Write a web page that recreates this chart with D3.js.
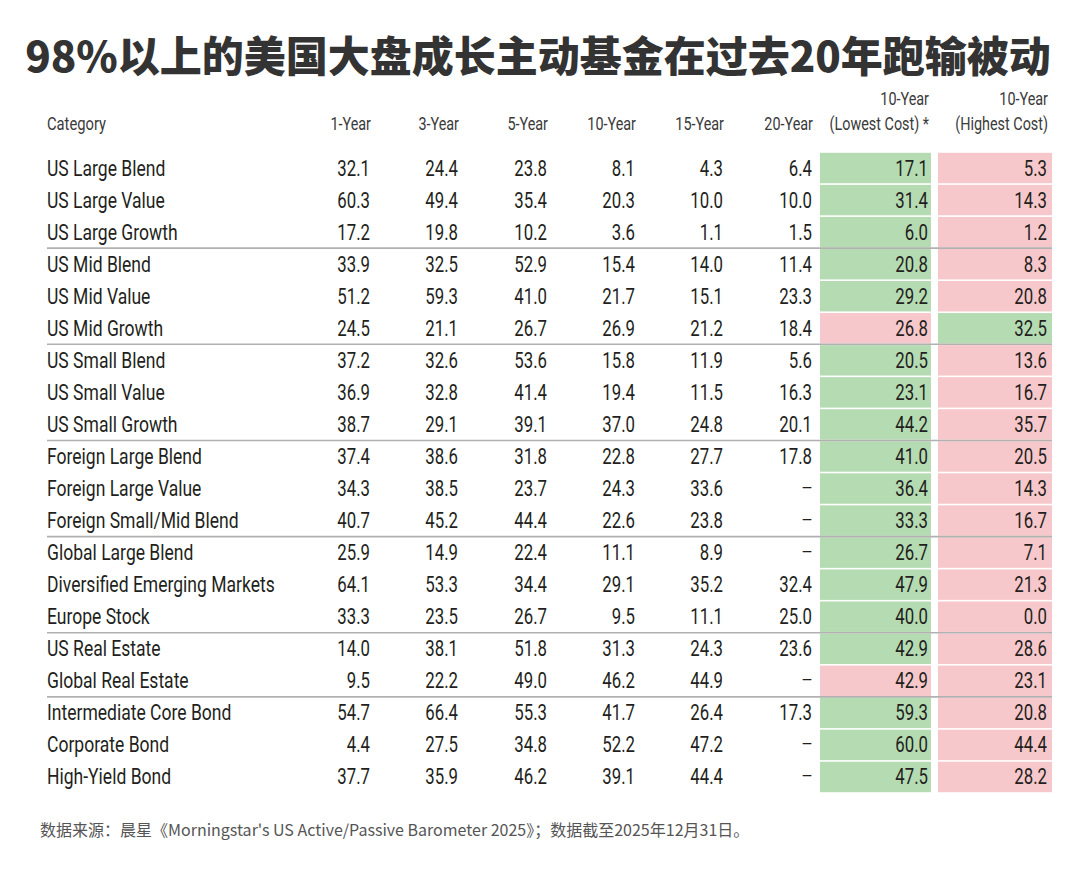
<!doctype html>
<html>
  <head>
    <meta charset="utf-8">
    <title>98%以上的美国大盘成长主动基金在过去20年跑输被动</title>
    <script src="https://cdn.jsdelivr.net/npm/d3@7/dist/d3.min.js"></script>
    <style>
      html, body { margin: 0; padding: 0; background: #fff; }
      svg { display: block; }
    </style>
  </head>
  <body>
    <div id="chart"></div>
  </body>
  <script>
    var width = 1080,
      height = 873;

    var titleText = "98%以上的美国大盘成长主动基金在过去20年跑输被动";
    var sourceText = "数据来源：晨星《Morningstar's US Active/Passive Barometer 2025》；数据截至2025年12月31日。";

    var categories = [
      "US Large Blend", "US Large Value", "US Large Growth",
      "US Mid Blend", "US Mid Value", "US Mid Growth",
      "US Small Blend", "US Small Value", "US Small Growth",
      "Foreign Large Blend", "Foreign Large Value", "Foreign Small/Mid Blend",
      "Global Large Blend", "Diversified Emerging Markets", "Europe Stock",
      "US Real Estate", "Global Real Estate",
      "Intermediate Core Bond", "Corporate Bond", "High-Yield Bond"
    ];

    // index of the first row in each group (a rule is drawn above it)
    var groupStarts = [3, 6, 9, 12, 15, 17];

    var columns = ["1-Year", "3-Year", "5-Year", "10-Year", "15-Year", "20-Year", "lowest", "highest"];
    var headerTop = { lowest: "10-Year", highest: "10-Year" };
    var headerBottom = {
      "1-Year": "1-Year", "3-Year": "3-Year", "5-Year": "5-Year",
      "10-Year": "10-Year", "15-Year": "15-Year", "20-Year": "20-Year",
      lowest: "(Lowest Cost) *", highest: "(Highest Cost)"
    };

    var oneYear    = [32.1, 60.3, 17.2, 33.9, 51.2, 24.5, 37.2, 36.9, 38.7, 37.4, 34.3, 40.7, 25.9, 64.1, 33.3, 14.0, 9.5, 54.7, 4.4, 37.7];
    var threeYear  = [24.4, 49.4, 19.8, 32.5, 59.3, 21.1, 32.6, 32.8, 29.1, 38.6, 38.5, 45.2, 14.9, 53.3, 23.5, 38.1, 22.2, 66.4, 27.5, 35.9];
    var fiveYear   = [23.8, 35.4, 10.2, 52.9, 41.0, 26.7, 53.6, 41.4, 39.1, 31.8, 23.7, 44.4, 22.4, 34.4, 26.7, 51.8, 49.0, 55.3, 34.8, 46.2];
    var tenYear    = [8.1, 20.3, 3.6, 15.4, 21.7, 26.9, 15.8, 19.4, 37.0, 22.8, 24.3, 22.6, 11.1, 29.1, 9.5, 31.3, 46.2, 41.7, 52.2, 39.1];
    var fifteenYear = [4.3, 10.0, 1.1, 14.0, 15.1, 21.2, 11.9, 11.5, 24.8, 27.7, 33.6, 23.8, 8.9, 35.2, 11.1, 24.3, 44.9, 26.4, 47.2, 44.4];
    var twentyYear = [6.4, 10.0, 1.5, 11.4, 23.3, 18.4, 5.6, 16.3, 20.1, 17.8, null, null, null, 32.4, 25.0, 23.6, null, 17.3, null, null];
    var tenYearLowestCost  = [17.1, 31.4, 6.0, 20.8, 29.2, 26.8, 20.5, 23.1, 44.2, 41.0, 36.4, 33.3, 26.7, 47.9, 40.0, 42.9, 42.9, 59.3, 60.0, 47.5];
    var tenYearHighestCost = [5.3, 14.3, 1.2, 8.3, 20.8, 32.5, 13.6, 16.7, 35.7, 20.5, 14.3, 16.7, 7.1, 21.3, 0.0, 28.6, 23.1, 20.8, 44.4, 28.2];

    var series = {
      "1-Year": oneYear, "3-Year": threeYear, "5-Year": fiveYear,
      "10-Year": tenYear, "15-Year": fifteenYear, "20-Year": twentyYear,
      lowest: tenYearLowestCost, highest: tenYearHighestCost
    };

    var rows = categories.map(function(c, i) {
      var r = { category: c, index: i };
      columns.forEach(function(k) { r[k] = series[k][i]; });
      return r;
    });

    var green = "#b5dbb3",
      pink = "#f7c8cb",
      textColour = "#231f20",
      headColour = "#3a3a3a",
      squeeze = 0.78;

    var svg = d3.select("#chart")
                .append("svg")
                .attr("width", width)
                .attr("height", height);

    // row scale
    var y = d3.scaleBand()
              .domain(d3.range(categories.length))
              .range([152, 793])
              .paddingInner(0)
              .paddingOuter(0);

    // right edge of each numeric column
    var colRight = d3.scaleOrdinal()
                     .domain(columns)
                     .range([370, 458, 547, 635, 723, 812, 928, 1047]);

    var cellBox = {
      lowest: [820, 931],
      highest: [938, 1052]
    };

    function squeezeText(sel, x, yy, anchor, s) {
      sel.attr("text-anchor", anchor)
         .attr("transform", "translate(" + x + "," + yy + ") scale(" + s + ",1)");
    }

    // title
    var title = svg.append("text")
                   .text(titleText)
                   .attr("font-family", "'Noto Sans CJK SC', 'Noto Sans', sans-serif")
                   .attr("font-weight", 900)
                   .attr("font-size", 42)
                   .attr("fill", "#333");
    var tw = title.node().getComputedTextLength();
    squeezeText(title, 538, 72, "middle", Math.min(1, 1026 / tw));

    // coloured cells
    ["lowest", "highest"].forEach(function(k) {
      svg.append("g")
         .selectAll("rect")
         .data(rows)
         .enter()
         .append("rect")
         .attr("x", cellBox[k][0])
         .attr("width", cellBox[k][1] - cellBox[k][0])
         .attr("y", function(d) { return y(d.index) + 0.8; })
         .attr("height", y.bandwidth() - 1.6)
         .attr("fill", function(d) { return d[k] > d["10-Year"] ? green : pink; });
    });

    // group rules
    svg.append("g")
       .selectAll("line")
       .data(groupStarts)
       .enter()
       .append("line")
       .attr("x1", 47)
       .attr("x2", 1052)
       .attr("y1", function(d) { return y(d); })
       .attr("y2", function(d) { return y(d); })
       .attr("stroke", "#a8a8a8")
       .attr("stroke-opacity", 0.9)
       .attr("stroke-width", 1.6);

    // headers
    var font = "Roboto, 'Liberation Sans', sans-serif";
    var head = svg.append("g")
                  .attr("font-family", font)
                  .attr("font-size", 18)
                  .attr("fill", headColour);

    head.append("text")
        .text("Category")
        .call(squeezeText, 47, 130, "start", 0.82);

    columns.forEach(function(k) {
      head.append("text")
          .text(headerBottom[k])
          .call(squeezeText, colRight(k) + 1, 130, "end", 0.8);
      if (headerTop[k]) {
        head.append("text")
            .text(headerTop[k])
            .call(squeezeText, colRight(k) + 1, 105, "end", 0.8);
      }
    });

    // body
    var body = svg.append("g")
                  .attr("font-family", font)
                  .attr("font-size", 21.5)
                  .attr("fill", textColour);

    var rowG = body.selectAll("g.row")
                   .data(rows)
                   .enter()
                   .append("g")
                   .attr("class", "row");

    rowG.append("text")
        .text(function(d) { return d.category; })
        .each(function(d) {
          squeezeText(d3.select(this), 47, y(d.index) + y.bandwidth() / 2 + 7.5, "start", 0.815);
        });

    columns.forEach(function(k) {
      rowG.append("text")
          .text(function(d) { return d[k] == null ? "—" : d[k].toFixed(1); })
          .attr("font-size", function(d) { return d[k] == null ? 17 : null; })
          .each(function(d) {
            var dy = d[k] == null ? 5.5 : 7.5;
            squeezeText(d3.select(this), colRight(k), y(d.index) + y.bandwidth() / 2 + dy, "end", squeeze);
          });
    });

    // source note
    var note = svg.append("text")
                  .text(sourceText)
                  .attr("font-family", "'Noto Sans CJK SC', 'Noto Sans', sans-serif")
                  .attr("font-size", 16)
                  .attr("fill", "#555");
    var nw = note.node().getComputedTextLength();
    squeezeText(note, 40, 836, "start", Math.min(1, 716 / nw));
  </script>
</html>
